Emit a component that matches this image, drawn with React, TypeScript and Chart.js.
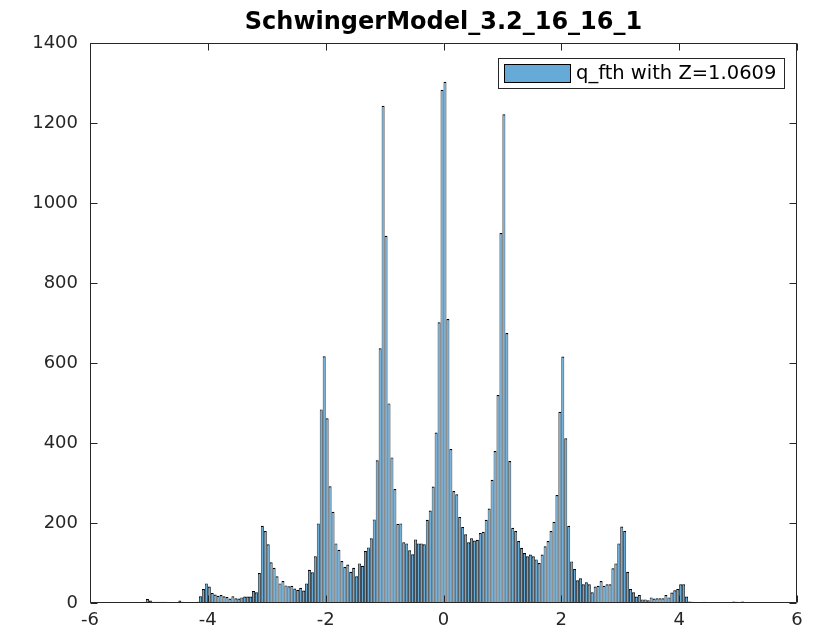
import React, { useEffect, useRef } from 'react';
import { Chart, registerables } from 'chart.js';

Chart.register(...registerables);

const TITLE = 'SchwingerModel_3.2_16_16_1';
const SERIES_LABEL = 'q_fth with Z=1.0609';
const BIN_START = -5.6;
const BIN_WIDTH = 0.05;
// histogram counts, one per 0.05-wide bin from -5.6 to 5.6
const COUNTS = [
  0, 2, 2, 2, 0, 2, 2, 2, 0, 1,
  3, 10, 6, 3, 3, 3, 3, 3, 0, 0,
  1, 1, 6, 3, 1, 2, 2, 2, 3, 17,
  35, 49, 41, 25, 21, 18, 20, 17, 15, 11,
  17, 12, 11, 14, 16, 16, 16, 30, 27, 75,
  193, 180, 147, 102, 88, 67, 49, 55, 44, 42,
  43, 36, 33, 38, 31, 49, 83, 77, 117, 199,
  484, 617, 462, 292, 228, 149, 133, 105, 90, 96,
  78, 88, 67, 99, 93, 130, 139, 162, 209, 357,
  637, 1243, 918, 499, 364, 285, 198, 199, 152, 149,
  132, 122, 159, 149, 149, 147, 208, 231, 291, 426,
  702, 1283, 1303, 710, 385, 280, 272, 215, 190, 172,
  152, 162, 156, 158, 175, 178, 208, 236, 308, 380,
  520, 925, 1222, 675, 355, 188, 180, 155, 138, 125,
  117, 121, 117, 109, 100, 121, 142, 155, 180, 203,
  270, 478, 616, 412, 193, 104, 85, 57, 62, 47,
  52, 47, 27, 41, 43, 55, 43, 47, 47, 87,
  99, 149, 191, 180, 78, 35, 27, 16, 20, 9,
  9, 7, 14, 11, 12, 12, 12, 20, 14, 26,
  32, 35, 47, 47, 16, 4, 3, 2, 2, 1,
  3, 1, 1, 0, 2, 1, 1, 1, 0, 1,
  4, 3, 2, 4, 2, 1, 0, 1, 1, 1,
  1, 1, 0, 0,
];
const X_TICKS = [-6, -4, -2, 0, 2, 4, 6];
const Y_TICKS = [0, 200, 400, 600, 800, 1000, 1200, 1400];

const BAR_COLOR = 'rgb(102,170,215)';
const AXIS_COLOR = '#262626';
const FONT = '"DejaVu Sans", sans-serif';

const framePlugin = {
  id: 'matlabFrame',
  afterDraw(chart: any) {
    const { ctx, chartArea: a, scales } = chart;
    const xs = scales.x;
    const ys = scales.y;
    ctx.save();
    ctx.strokeStyle = AXIS_COLOR;
    ctx.lineWidth = 1;
    const L = Math.round(a.left) + 0.5;
    const R = Math.round(a.right) - 0.5;
    const T = Math.round(a.top) + 0.5;
    const B = Math.round(a.bottom) - 0.5;
    ctx.beginPath();
    ctx.rect(L, T, R - L, B - T);
    ctx.stroke();
    const tl = 7;
    ctx.beginPath();
    X_TICKS.forEach((v) => {
      const px = Math.round(xs.getPixelForValue(v)) + 0.5;
      ctx.moveTo(px, B);
      ctx.lineTo(px, B - tl);
      ctx.moveTo(px, T);
      ctx.lineTo(px, T + tl);
    });
    Y_TICKS.forEach((v) => {
      const py = Math.round(ys.getPixelForValue(v)) + 0.5;
      ctx.moveTo(L, py);
      ctx.lineTo(L + tl, py);
      ctx.moveTo(R, py);
      ctx.lineTo(R - tl, py);
    });
    ctx.stroke();

    // legend box (MATLAB style, inside top-right of axes)
    const label = chart.data.datasets[0].label;
    ctx.font = '19.5px ' + FONT;
    const tw = ctx.measureText(label).width;
    const swW = 66;
    const swH = 18;
    const boxH = 30;
    const boxW = Math.round(6 + swW + 6 + tw + 8);
    const boxR = Math.round(a.right) - 13;
    const boxT = Math.round(a.top) + 15;
    const boxL = boxR - boxW;
    ctx.fillStyle = '#ffffff';
    ctx.fillRect(boxL, boxT, boxW, boxH);
    ctx.strokeStyle = AXIS_COLOR;
    ctx.strokeRect(boxL + 0.5, boxT + 0.5, boxW, boxH);
    ctx.fillStyle = BAR_COLOR;
    ctx.fillRect(boxL + 6, boxT + 6, swW, swH);
    ctx.strokeStyle = '#000';
    ctx.strokeRect(boxL + 6.5, boxT + 6.5, swW, swH);
    ctx.fillStyle = '#000';
    ctx.textBaseline = 'middle';
    ctx.textAlign = 'left';
    ctx.fillText(label, boxL + 6 + swW + 6, boxT + boxH / 2 + 1);
    ctx.restore();
  },
};

export default function App() {
  const canvasRef = useRef<HTMLCanvasElement | null>(null);

  useEffect(() => {
    const canvas = canvasRef.current;
    if (!canvas) return;
    const points = COUNTS.map((c, i) => ({ x: BIN_START + (i + 0.5) * BIN_WIDTH, y: c }));
    const chart = new Chart(canvas, {
      type: 'bar',
      data: {
        datasets: [
          {
            label: SERIES_LABEL,
            data: points as any,
            backgroundColor: BAR_COLOR,
            borderColor: '#000000',
            borderWidth: { left: 0.8, right: 0.8, top: 1.2, bottom: 0 } as any,
            borderSkipped: 'start',
            barPercentage: 1,
            categoryPercentage: 1,
            inflateAmount: 0,
          } as any,
        ],
      },
      options: {
        responsive: false,
        animation: false,
        devicePixelRatio: 1,
        layout: { padding: { left: 0, right: 18, top: 0, bottom: 0 } },
        plugins: {
          legend: { display: false },
          tooltip: { enabled: false },
          title: {
            display: true,
            text: TITLE,
            fullSize: false,
            color: '#000000',
            font: { family: FONT, size: 24, weight: 'bold', lineHeight: 1.2 },
            padding: { top: 8, bottom: 43 - 8 - 24 * 1.2 },
          },
        },
        scales: {
          x: {
            type: 'linear',
            min: -6,
            max: 6,
            offset: false,
            grid: { display: false, drawTicks: false, offset: false } as any,
            border: { display: false },
            afterBuildTicks: (scale: any) => {
              scale.ticks = X_TICKS.map((v) => ({ value: v }));
            },
            afterFit: (scale: any) => {
              scale.height = 37;
            },
            ticks: {
              color: AXIS_COLOR,
              font: { family: FONT, size: 18 },
              padding: 7,
              maxRotation: 0,
              autoSkip: false,
              callback: (v: any) => String(v),
            },
          },
          y: {
            type: 'linear',
            min: 0,
            max: 1400,
            grid: { display: false, drawTicks: false },
            border: { display: false },
            afterBuildTicks: (scale: any) => {
              scale.ticks = Y_TICKS.map((v) => ({ value: v }));
            },
            afterFit: (scale: any) => {
              scale.width = 90;
            },
            ticks: {
              color: AXIS_COLOR,
              font: { family: FONT, size: 18 },
              padding: 12,
              autoSkip: false,
              callback: (v: any) => String(v),
            },
          },
        },
      },
      plugins: [framePlugin],
    });
    return () => chart.destroy();
  }, []);

  return (
    <div style={{ position: 'absolute', left: 0, top: 0, width: 815, height: 640, background: '#fff' }}>
      <canvas ref={canvasRef} width={815} height={640} style={{ display: 'block' }} />
    </div>
  );
}
